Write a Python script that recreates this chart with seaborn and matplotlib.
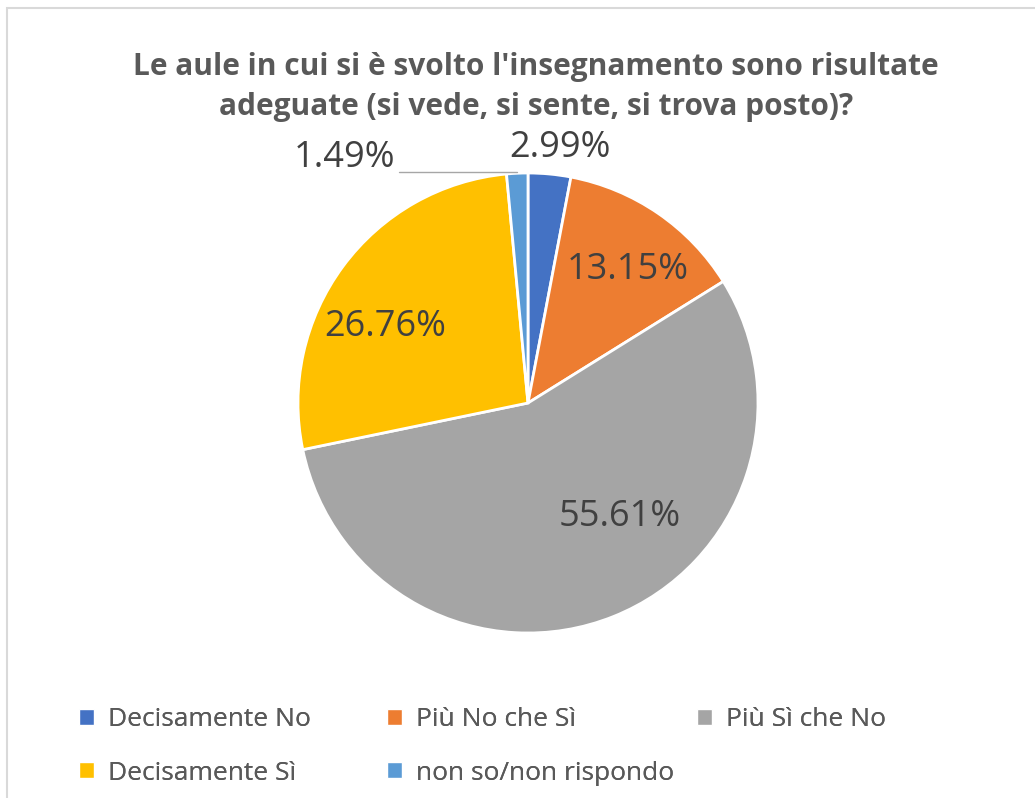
import matplotlib
matplotlib.use("Agg")
import matplotlib.pyplot as plt
import seaborn as sns
from matplotlib.patches import Patch, Rectangle

# survey answers and shares (%)
categories = ["Decisamente No", "Più No che Sì", "Più Sì che No", "Decisamente Sì", "non so/non rispondo"]
percentages = [2.99, 13.15, 55.61, 26.76, 1.49]
slice_colors = ["#4472C4", "#ED7D31", "#A5A5A5", "#FFC000", "#5B9BD5"]
title_lines = ["Le aule in cui si è svolto l'insegnamento sono risultate",
               "adeguate (si vede, si sente, si trova posto)?"]

sns.set_theme(style="white")
plt.rcParams["font.family"] = ["Open Sans", "DejaVu Sans"]

W, H = 1035, 798
fig = plt.figure(figsize=(W / 100, H / 100), dpi=100)
fig.patch.set_facecolor("white")

# chart border (like the Excel chart area)
fig.add_artist(Rectangle((7 / W, -0.05), 1.2, 1 - 8 / H + 0.05, transform=fig.transFigure,
                         fill=False, edgecolor="#D9D9D9", linewidth=1.5))

# pie axes: centre (528, 403), radius 230 px
cx, cy, r = 528, 403, 230
ax = fig.add_axes([(cx - r) / W, 1 - (cy + r) / H, 2 * r / W, 2 * r / H])
palette = sns.color_palette(slice_colors)
wedges, _ = ax.pie(percentages, colors=palette, startangle=90, counterclock=False,
                   wedgeprops=dict(edgecolor="white", linewidth=2))
ax.set_xlim(-1, 1)
ax.set_ylim(-1, 1)
ax.set_aspect("equal")

# data labels
label_pos = [(0.139, 1.109), (0.435, 0.578), (0.40, -0.496), (-0.622, 0.330), (-0.796, 1.065)]
for val, (lx, ly) in zip(percentages, label_pos):
    ax.text(lx, ly, f"{val:.2f}%", ha="center", va="center", fontsize=26, color="#404040")
# leader line for the small slice
ax.plot([-0.56, -0.05], [1.003, 1.003], color="#A6A6A6", linewidth=1, clip_on=False)

fig.text(536 / W, 1 - 87 / H, "\n".join(title_lines), ha="center", va="center",
         fontsize=21.5, fontweight="bold", color="#595959", linespacing=1.4)

# legend: three equal columns, row-major order like the original
handles = [Patch(facecolor=c) for c in palette]
columns = [[0, 3], [1, 4], [2]]
col_x = [79, 387, 697]
for cols, x in zip(columns, col_x):
    leg = fig.legend([handles[i] for i in cols], [categories[i] for i in cols],
                     loc="upper left", bbox_to_anchor=(x / W, 1 - 707 / H),
                     frameon=False, fontsize=19, labelcolor="#595959",
                     handlelength=0.55, handleheight=0.55, handletextpad=0.55,
                     labelspacing=1.08, borderaxespad=0, borderpad=0)
    fig.add_artist(leg)

fig.savefig("out.png", dpi=100)
